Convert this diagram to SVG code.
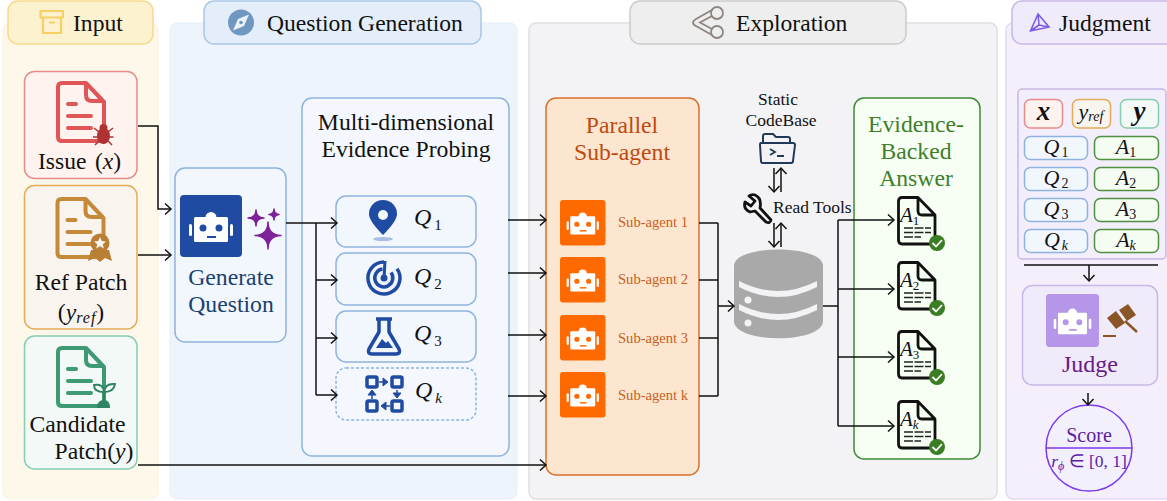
<svg xmlns="http://www.w3.org/2000/svg" width="1167" height="501" viewBox="0 0 1167 501">
<style>
text{font-family:"Liberation Serif","Times New Roman",serif;fill:#111}
.h{font-size:23.600px}
.t{font-size:23.700px;text-anchor:middle}
.m{font-style:italic}
.c{font-size:22px;font-style:italic;text-anchor:middle}
.q{font-size:24px;font-style:italic}
.line{fill:none;stroke:#111;stroke-width:1.500}
.arr{fill:none;stroke:#111;stroke-width:1.500;marker-end:url(#a)}
.qb{fill:#f2f7fe;stroke:#8fb3de;stroke-width:1.500}
.ab{fill:#f5fdf2;stroke:#4f9140;stroke-width:1.500}
.bl{fill:none;stroke:#1f4ba3;stroke-width:3.500;stroke-linejoin:round}
.blf{fill:#1f4ba3}
.sa{font-size:14.600px;fill:#c95f20}
.s17{font-size:17.500px}
</style>
<defs>
<marker id="a" markerUnits="userSpaceOnUse" markerWidth="10" markerHeight="14" refX="7.500" refY="7" orient="auto"><path d="M1.500,1.500 L7.500,7 L1.500,12.500" fill="none" stroke="#111" stroke-width="1.500"/></marker>
<symbol id="robot" viewBox="0 0 62 62" overflow="visible">
<rect width="62" height="62" rx="4" fill="currentColor"/>
<circle cx="31" cy="22.500" r="5.500" fill="#fff"/>
<rect x="14" y="22" width="34" height="25" rx="1.500" fill="#fff"/>
<rect x="9" y="29" width="3" height="12" rx="1.500" fill="#fff"/>
<rect x="50" y="29" width="3" height="12" rx="1.500" fill="#fff"/>
<circle cx="23" cy="33" r="3.500" fill="currentColor"/>
<circle cx="39" cy="33" r="3.500" fill="currentColor"/>
<rect x="27" y="41" width="9" height="2" fill="currentColor"/>
</symbol>
<symbol id="doc" viewBox="0 0 50 62" overflow="visible">
<path d="M6,2 H30 L48,21 V55 Q48,60 43,60 H6 Q2,60 2,56 V6 Q2,2 6,2 Z M30,2 V14 Q30,20 36,20 H48" fill="none" stroke="currentColor" stroke-width="4" stroke-linejoin="round"/>
<path d="M12,23 H20 M12,35 H35 M12,47 H35" fill="none" stroke="currentColor" stroke-width="4" stroke-linecap="round"/>
</symbol>
<symbol id="ans" viewBox="0 0 40 50" overflow="visible">
<path d="M5,1.500 H21 L38,19 V44 Q38,48 34,48 H5 Q1.500,48 1.500,44 V5 Q1.500,1.500 5,1.500 Z M21,1.500 V15 Q21,19 25,19 H38" fill="#f7fff5" stroke="#111" stroke-width="2.800" stroke-linejoin="round"/>
<path d="M7,32 H34 M7,36.500 H34 M7,41 H24" fill="none" stroke="#222" stroke-width="1.500" stroke-dasharray="9 1.500"/>
<circle cx="40" cy="47" r="8" fill="#3a7d23"/>
<path d="M35.500,47 L39,50.500 L45,44" fill="none" stroke="#fff" stroke-width="1.800"/>
</symbol>
</defs>

<g id="panel-input">
<rect x="3" y="23" width="155" height="476" rx="7" fill="#fdf8e9" stroke="#faf2da"/>
<rect x="8" y="1" width="145" height="43" rx="10" fill="#fdf2d0" stroke="#f6d98b" stroke-width="1.500"/>
<path d="M40.500,11 H63 V17.500 H40.500 Z M43,17.500 V33 H61 V17.500 M49,22.500 H55" fill="none" stroke="#f8cf62" stroke-width="2.200" stroke-linejoin="round"/>
<text class="h" x="73" y="31">Input</text>
</g>
<g id="panel-question">
<rect x="170" y="23" width="347" height="476" rx="7" fill="#edf4fc" stroke="#e6eff9"/>
<rect x="204" y="1" width="277" height="43" rx="10" fill="#e3eefa" stroke="#a9c7e8" stroke-width="1.500"/>
<circle cx="241" cy="22.500" r="13" fill="#7097bf"/>
<path d="M249,14.500 L244,26 L233,30.500 L238,19 Z" fill="#eaf1f8"/>
<circle cx="241" cy="22.500" r="1.800" fill="#7097bf"/>
<text class="h" x="267" y="31">Question Generation</text>
</g>
<g id="panel-exploration">
<rect x="529" y="23" width="468" height="476" rx="7" fill="#f3f3f6" stroke="#e0e0e0" stroke-width="1.500"/>
<rect x="630" y="1" width="276" height="43" rx="10" fill="#eeeeee" stroke="#cccccc" stroke-width="1.500"/>
<g fill="none" stroke="#8f8580" stroke-width="1.800"><circle cx="717" cy="13" r="6"/><circle cx="717" cy="32" r="6"/><path d="M712,10 L696,19 Q690,23 696,26 L712,35 M712,16 L700,22.500 L712,29"/></g>
<text class="h" x="736" y="31">Exploration</text>
</g>
<g id="panel-judgment">
<rect x="1006" y="23" width="170" height="476" rx="7" fill="#f5effc" stroke="#e4d9f2" stroke-width="1.500"/>
<rect x="1012" y="1" width="170" height="43" rx="10" fill="#f0ebfa" stroke="#c8b8e5" stroke-width="1.500"/>
<path d="M1038,14 L1030.500,31 L1049,27 Z M1038,14 L1039,25 L1030.500,31 M1039,25 L1049,27" fill="none" stroke="#7c5ce0" stroke-width="1.600"/>
<text class="h" x="1059" y="31">Judgment</text>
</g>

<g id="node-issue">
<rect x="24.500" y="71.500" width="112.500" height="107" rx="10" fill="#fff3f0" stroke="#e88b8b" stroke-width="1.500"/>
<use href="#doc" x="56" y="81" width="50" height="62" style="color:#e05555"/>
<g fill="#b03333" stroke="#b03333"><ellipse cx="103.500" cy="136" rx="6.500" ry="8" stroke="none"/><circle cx="103.500" cy="128" r="4" stroke="none"/><path d="M94,128 L99,132 M113,128 L108,132 M93,137 H113.500 M95,145 L99,141 M112,145 L108,141" fill="none" stroke-width="1.500"/></g>
<text class="h" x="38" y="169">Issue</text>
<text class="h" x="95" y="169">(<tspan class="m">x</tspan>)</text>
</g>
<g id="node-ref">
<rect x="24.500" y="185.500" width="112.500" height="143.500" rx="10" fill="#f9f4ee" stroke="#e3ab5a" stroke-width="1.500"/>
<use href="#doc" x="55" y="197" width="51" height="62" style="color:#c48a3a"/>
<path d="M91,250 L88,261 L95,258 L100,262 L105,258 L112,261 L109,250 Z" fill="#b87f35"/>
<circle cx="100" cy="243" r="9.500" fill="#b87f35"/>
<path d="M100,237 L101.800,241 L106,241.400 L102.800,244.200 L103.800,248.400 L100,246.200 L96.200,248.400 L97.200,244.200 L94,241.400 L98.200,241 Z" fill="#f9f4ee"/>
<text class="t" x="81" y="290">Ref Patch</text>
<text class="t" x="81" y="320">(<tspan class="m">y</tspan><tspan class="m" font-size="16" dy="3" letter-spacing="1">ref</tspan><tspan dy="-3">)</tspan></text>
</g>
<g id="node-candidate">
<rect x="24.500" y="336" width="112.500" height="133" rx="10" fill="#f2f9f7" stroke="#87cdb0" stroke-width="1.500"/>
<use href="#doc" x="56" y="346" width="50" height="62" style="color:#3d9a73"/>
<path d="M104,405 V390 M104,392 Q94,392 94,385 Q103,383 104,392 Q105,383 115,384 Q114,392 104,392" fill="#f2f9f7" stroke="#2f8563" stroke-width="2"/>
<path d="M97,408 Q97,400 104,400 Q110,400 110,408 Z" fill="#2f8563"/>
<text class="t" x="77.500" y="432">Candidate</text>
<text class="t" x="94" y="459">Patch(<tspan class="m">y</tspan>)</text>
</g>

<g id="node-generate">
<rect x="175" y="168" width="111" height="174" rx="10" class="qb"/>
<use href="#robot" x="180" y="195" width="62" height="62" style="color:#1f4ba3"/>
<path d="M256,210 Q256,218 248,218 Q256,218 256,226 Q256,218 264,218 Q256,218 256,210 Z M274,209 Q274,214 269,214.500 Q274,215 274,220 Q274,215 279,214.500 Q274,214 274,209 Z M268,222 Q268,235 255,235.500 Q268,236 268,249 Q268,236 281,235.500 Q268,235 268,222 Z" fill="#7d2299" stroke="#7d2299" stroke-width="1.500" stroke-linejoin="round"/>
<text class="t" x="231" y="285" style="fill:#1a3f73">Generate</text>
<text class="t" x="231" y="312" style="fill:#1a3f73">Question</text>
</g>

<g id="node-probing">
<rect x="302" y="98" width="207" height="358" rx="10" fill="#f4f8fe" stroke="#8fb3de" stroke-width="1.500"/>
<text class="t" x="406" y="130">Multi-dimensional</text>
<text class="t" x="406" y="157">Evidence Probing</text>
</g>
<g id="node-q1">
<rect x="336" y="196" width="140" height="51" rx="10" class="qb"/>
<ellipse cx="383" cy="239" rx="10" ry="2" fill="#a8bde0"/>
<path d="M383,235 Q369,221 369,214 A14,14 0 0 1 397,214 Q397,221 383,235 Z" class="blf"/><circle cx="383" cy="215" r="5" fill="#f2f7fe"/>
<text class="q" x="414" y="225">Q<tspan font-size="15" font-style="normal" dx="3" dy="5">1</tspan></text>
</g>
<g id="node-q2">
<rect x="336" y="253" width="140" height="52" rx="10" class="qb"/>
<path d="M384,262 A16,16 0 1 0 397,268.700 M382.500,269 A9,9 0 1 0 391,272.500" class="bl"/><circle cx="384" cy="278" r="3.500" class="blf"/><path d="M384,278 L385,261" fill="none" stroke="#1f4ba3" stroke-width="3"/>
<text class="q" x="414" y="284">Q<tspan font-size="15" font-style="normal" dx="3" dy="5">2</tspan></text>
</g>
<g id="node-q3">
<rect x="336" y="311" width="140" height="51" rx="10" class="qb"/>
<path d="M376,319 H392 M379,319 V332 L369,349 Q367,354 372,354 H396 Q401,354 399,349 L389,332 V319" class="bl"/>
<path d="M376,348 L382,339 L386,343 L388,341 L393,348 Z" class="blf"/>
<text class="q" x="414" y="341">Q<tspan font-size="15" font-style="normal" dx="3" dy="5">3</tspan></text>
</g>
<g id="node-qk">
<rect x="336" y="368" width="140" height="52" rx="10" fill="#f4f8fe" stroke="#8fb3de" stroke-width="1.500" stroke-dasharray="3 2"/>
<rect x="367" y="377" width="10" height="10" rx="1.500" class="bl"/><rect x="392" y="377" width="10" height="10" rx="1.500" class="bl"/><rect x="367" y="401" width="10" height="10" rx="1.500" class="bl"/><rect x="392" y="401" width="10" height="10" rx="1.500" class="bl"/>
<path d="M379,382 H383 V378 L388,382 L383,386 V382 Z M397,390 V393 H401 L397,398 L393,393 H397 Z M390,406 H386 V402 L381,406 L386,410 V406 Z M372,399 V395 H368 L372,390 L376,395 H372 Z" class="blf" stroke="#1f4ba3"/>
<text class="q" x="415" y="398">Q<tspan font-size="15" dx="3" dy="5">k</tspan></text>
</g>

<g id="node-parallel">
<rect x="546" y="98" width="153" height="377" rx="10" fill="#fde6d0" stroke="#d9702e" stroke-width="1.500"/>
<text class="t" x="622" y="133" style="fill:#c0490f">Parallel</text>
<text class="t" x="622" y="160" style="fill:#c0490f">Sub-agent</text>
</g>
<g id="node-sub1"><use href="#robot" x="560" y="200" width="45.500" height="45.500" style="color:#ff6a00"/><text class="sa" x="618" y="227">Sub-agent 1</text></g>
<g id="node-sub2"><use href="#robot" x="560" y="257" width="45.500" height="45.500" style="color:#ff6a00"/><text class="sa" x="618" y="284">Sub-agent 2</text></g>
<g id="node-sub3"><use href="#robot" x="560" y="315" width="45.500" height="45.500" style="color:#ff6a00"/><text class="sa" x="618" y="343">Sub-agent 3</text></g>
<g id="node-subk"><use href="#robot" x="560" y="372" width="45.500" height="45.500" style="color:#ff6a00"/><text class="sa" x="618" y="400">Sub-agent k</text></g>

<g id="node-codebase">
<text class="s17" x="778" y="105" text-anchor="middle">Static</text>
<text class="s17" x="781" y="125.500" text-anchor="middle">CodeBase</text>
<path d="M763,143 V136 Q763,134 765,134 H773 L776,137 H788 Q790,137 790,139 V143 M761,143 H793 Q795,143 795,145 L793,161 Q793,163 791,163 H763 Q761,163 761,161 L760,145 Q760,143 761,143 Z" fill="none" stroke="#22395a" stroke-width="2"/>
<path d="M770,149 L775,152 L770,155 M777,156 H784" fill="none" stroke="#22395a" stroke-width="1.800"/>
</g>
<g id="node-tools">
<path d="M749,196 L755,201 L751,206 L745,202 Q743,209 750,212 L755,211 L766,222 Q770,224 771,220 L760,208 Q762,198 755,195 Q752,194 749,196 Z" fill="none" stroke="#111" stroke-width="2.800" stroke-linejoin="round"/>
<text class="s17" x="773" y="213">Read Tools</text>
</g>
<g id="node-db">
<path d="M734,266 C734,244 823,244 823,266 V321 C823,344 734,344 734,321 Z" fill="#a9a9a9"/>
<path d="M739,281 Q778,301 817,281 V287 Q778,307 739,287 Z M739,304 Q778,324 817,304 V310 Q778,330 739,310 Z" fill="#f3f3f6"/>
<circle cx="748" cy="300" r="3.500" fill="#f3f3f6"/><circle cx="748" cy="323" r="3.500" fill="#f3f3f6"/>
</g>

<g id="node-answer">
<rect x="854" y="98" width="126" height="361" rx="10" fill="#f7fff5" stroke="#3f8a35" stroke-width="1.500"/>
<text class="t" x="916" y="132" style="fill:#3f7f2a">Evidence-</text>
<text class="t" x="916" y="159" style="fill:#3f7f2a">Backed</text>
<text class="t" x="916" y="186" style="fill:#3f7f2a">Answer</text>
</g>
<g id="node-a1"><use href="#ans" x="897" y="196" width="40" height="50"/><text x="900" y="222" font-size="21" class="m">A<tspan font-size="13" font-style="normal" dy="3">1</tspan></text></g>
<g id="node-a2"><use href="#ans" x="897" y="261" width="40" height="50"/><text x="900" y="287" font-size="21" class="m">A<tspan font-size="13" font-style="normal" dy="3">2</tspan></text></g>
<g id="node-a3"><use href="#ans" x="897" y="330" width="40" height="50"/><text x="900" y="356" font-size="21" class="m">A<tspan font-size="13" font-style="normal" dy="3">3</tspan></text></g>
<g id="node-ak"><use href="#ans" x="897" y="400" width="40" height="50"/><text x="900" y="426" font-size="21" class="m">A<tspan font-size="13" dy="3">k</tspan></text></g>

<g id="node-context">
<rect x="1018" y="89" width="148" height="170" rx="4" fill="#f3eefc" stroke="#c8b8e5" stroke-width="1.500"/>
<rect x="1024.500" y="99.500" width="38" height="28.500" rx="6" fill="#fff3f0" stroke="#e88b8b" stroke-width="1.500"/>
<text class="c" x="1043.500" y="120" font-weight="bold" style="font-size:27px">x</text>
<rect x="1072.500" y="99.500" width="38" height="28.500" rx="6" fill="#f9f4ee" stroke="#e3ab5a" stroke-width="1.500"/>
<text class="c" x="1091" y="119">y<tspan font-size="14" dy="2">ref</tspan></text>
<rect x="1120.500" y="99.500" width="38" height="28.500" rx="6" fill="#f2f9f7" stroke="#87cdb0" stroke-width="1.500"/>
<text class="c" x="1139.500" y="120" font-weight="bold" style="font-size:27px">y</text>
<rect x="1024.500" y="136.500" width="63" height="23" rx="6" class="qb"/><text class="c" x="1056" y="154">Q<tspan font-size="14" font-style="normal" dx="2" dy="3">1</tspan></text>
<rect x="1094.500" y="136.500" width="64" height="23" rx="6" class="ab"/><text class="c" x="1126" y="154">A<tspan font-size="14" font-style="normal" dy="3">1</tspan></text>
<rect x="1024.500" y="167.500" width="63" height="23" rx="6" class="qb"/><text class="c" x="1056" y="185">Q<tspan font-size="14" font-style="normal" dx="2" dy="3">2</tspan></text>
<rect x="1094.500" y="167.500" width="64" height="23" rx="6" class="ab"/><text class="c" x="1126" y="185">A<tspan font-size="14" font-style="normal" dy="3">2</tspan></text>
<rect x="1024.500" y="198.500" width="63" height="23" rx="6" class="qb"/><text class="c" x="1056" y="216">Q<tspan font-size="14" font-style="normal" dx="2" dy="3">3</tspan></text>
<rect x="1094.500" y="198.500" width="64" height="23" rx="6" class="ab"/><text class="c" x="1126" y="216">A<tspan font-size="14" font-style="normal" dy="3">3</tspan></text>
<rect x="1024.500" y="229.500" width="63" height="23" rx="6" class="qb"/><text class="c" x="1056" y="247">Q<tspan font-size="14" dx="2" dy="3">k</tspan></text>
<rect x="1094.500" y="229.500" width="64" height="23" rx="6" class="ab"/><text class="c" x="1126" y="247">A<tspan font-size="14" dy="3">k</tspan></text>
</g>
<g id="node-judge">
<rect x="1022.500" y="285.500" width="135" height="99.500" rx="10" fill="#f0ebfa" stroke="#c8b8e5" stroke-width="1.500"/>
<use href="#robot" x="1046" y="294" width="53" height="53" style="color:#b596e8"/>
<g fill="#8a5527"><rect x="1103" y="335" width="13" height="2"/><path d="M1119,310 L1128,304 L1136,315 L1127,321 Z M1107,318 L1116,311 L1125,323 L1116,329 Z"/><path d="M1125,321 L1137,332" stroke="#8a5527" stroke-width="2.500"/></g>
<text class="t" x="1090" y="372" style="fill:#6a1a8a;font-size:24px">Judge</text>
</g>
<g id="node-score">
<circle cx="1089" cy="448" r="43" fill="#f3f0fe" stroke="#7c3aed" stroke-width="1.500"/>
<path d="M1046,448 H1132" stroke="#7c3aed" stroke-width="1.500"/>
<text x="1089" y="442" text-anchor="middle" font-size="20" style="fill:#5b21a6">Score</text>
<text x="1089" y="467" text-anchor="middle" font-size="17.500" style="fill:#5b21a6"><tspan class="m" style="fill:#5b21a6">r</tspan><tspan font-size="12" dy="3" class="m" style="fill:#5b21a6">ϕ</tspan><tspan dy="-3"> ∈ [0, 1]</tspan></text>
</g>

<g id="connectors">
<path class="arr" d="M138,126 H158 V209 H171"/>
<path class="arr" d="M138,255 H171"/>
<path class="arr" d="M138,465 H546"/>
<path class="arr" d="M286,223 H337"/>
<path class="line" d="M316,223 V395"/>
<path class="arr" d="M316,280 H337"/>
<path class="arr" d="M316,338 H337"/>
<path class="arr" d="M316,395 H337"/>
<path class="arr" d="M508,220 H546"/>
<path class="arr" d="M508,273 H546"/>
<path class="arr" d="M508,335 H546"/>
<path class="arr" d="M508,396 H546"/>
<path class="line" d="M699,223 H718 M699,280 H718 M699,338 H718 M699,396 H718 M718,223 V396"/>
<path class="arr" d="M718,306 H734"/>
<path class="line" d="M823,306 H838 M838,220 V426"/>
<path class="arr" d="M838,220 H894"/>
<path class="arr" d="M838,289 H894"/>
<path class="arr" d="M838,357 H894"/>
<path class="arr" d="M838,426 H894"/>
<path class="arr" d="M774,168 V192"/>
<path class="arr" d="M781,192 V168"/>
<path class="arr" d="M774,223 V247"/>
<path class="arr" d="M781,247 V223"/>
<path class="line" d="M1024,265 H1158"/>
<path class="arr" d="M1089,265 V281"/>
<path class="arr" d="M1088,393 V405"/>
</g>
</svg>
